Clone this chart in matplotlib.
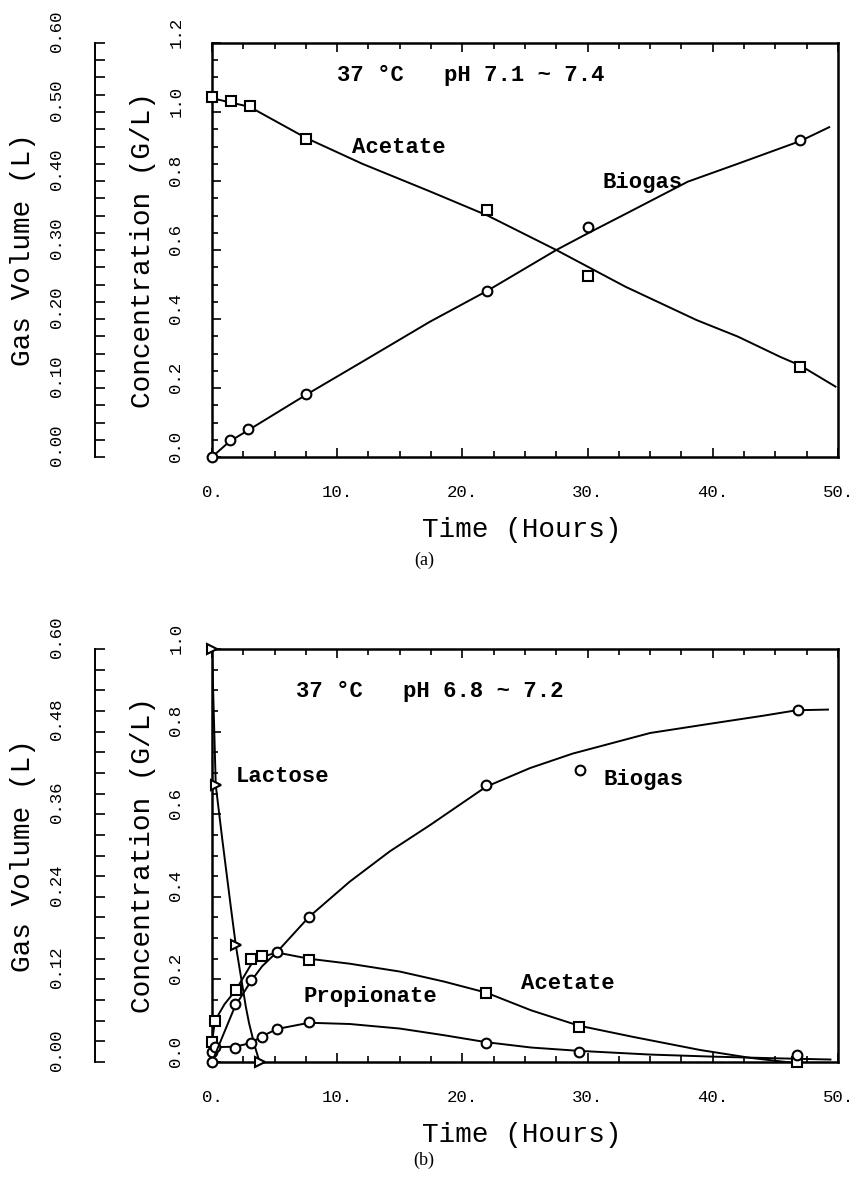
import matplotlib

matplotlib.use("Agg")
import matplotlib.pyplot as plt
import matplotlib.transforms as mtransforms
from matplotlib.ticker import MultipleLocator

# ---------------- panel (a): acetate, 37 C pH 7.1-7.4 ----------------
a_acetate_t = [0, 1.5, 3, 7.5, 22, 30, 47]
a_acetate_c = [1.043, 1.033, 1.018, 0.923, 0.716, 0.525, 0.262]
a_acetate_fit_t = [0, 3, 7.5, 12, 17.4, 22, 27.5, 33, 38.7, 42, 45.4, 47, 49.8]
a_acetate_fit_c = [1.04, 1.015, 0.925, 0.85, 0.77, 0.70, 0.60, 0.494, 0.397, 0.349, 0.29, 0.265, 0.204]

a_biogas_t = [0, 1.4, 2.9, 7.5, 22, 30, 47]
a_biogas_v = [0.0, 0.024, 0.041, 0.091, 0.241, 0.333, 0.46]
a_biogas_fit_t = [0, 1.4, 3, 7.5, 12, 17.4, 22, 27.5, 30, 33, 38, 42, 47, 49.3]
a_biogas_fit_v = [0.0, 0.0225, 0.04, 0.09, 0.138, 0.196, 0.241, 0.30, 0.324, 0.352, 0.399, 0.425, 0.458, 0.478]

# ---------------- panel (b): lactose, 37 C pH 6.8-7.2 ----------------
b_lactose_t = [0, 0.3, 1.9, 3.8]
b_lactose_c = [1.0, 0.67, 0.283, 0.0]
b_lactose_fit_t = [0, 0.3, 0.83, 1.5, 1.9, 2.7, 2.96, 3.4, 3.8]
b_lactose_fit_c = [1.0, 0.67, 0.537, 0.376, 0.283, 0.134, 0.094, 0.04, 0.0]

b_acetate_t = [0, 0.24, 1.9, 3.1, 4.0, 7.76, 21.9, 29.3, 46.7]
b_acetate_c = [0.049, 0.10, 0.174, 0.25, 0.257, 0.247, 0.166, 0.085, 0.0]
b_acetate_fit_t = [0, 0.24, 1.0, 1.9, 3.1, 4.0, 5.2, 7.76, 11, 15, 18.5, 21.9,
                   25.5, 29.3, 33.6, 39, 43, 46.7]
b_acetate_fit_c = [0.049, 0.10, 0.14, 0.174, 0.235, 0.255, 0.265, 0.25, 0.238, 0.219,
                   0.195, 0.168, 0.125, 0.088, 0.061, 0.029, 0.01, -0.003]

b_propionate_t = [0, 0.24, 1.84, 3.1, 3.97, 5.2, 7.76, 21.9, 29.3, 46.7]
b_propionate_c = [0.025, 0.036, 0.035, 0.046, 0.061, 0.081, 0.096, 0.045, 0.025, 0.017]
b_propionate_fit_t = [0, 0.24, 1.84, 3.1, 3.97, 5.2, 7.76, 11, 15, 18.5, 21.9, 25.5,
                      29.3, 35, 40, 45, 49.4]
b_propionate_fit_c = [0.025, 0.036, 0.037, 0.046, 0.062, 0.08, 0.095, 0.092, 0.081,
                      0.065, 0.048, 0.035, 0.027, 0.018, 0.013, 0.009, 0.006]

b_biogas_t = [0, 1.84, 3.1, 5.2, 7.76, 21.9, 29.4, 46.8]
b_biogas_v = [0.0, 0.084, 0.119, 0.160, 0.211, 0.403, 0.424, 0.512]
b_biogas_fit_t = [0, 1.84, 3.1, 4.0, 5.2, 7.76, 11, 14.2, 17.4, 21.9, 25.4, 28.8, 35,
                  40, 44, 46.7, 49.2]
b_biogas_fit_v = [0.0, 0.081, 0.117, 0.139, 0.160, 0.211, 0.262, 0.306, 0.344, 0.400,
                  0.427, 0.448, 0.478, 0.492, 0.503, 0.511, 0.512]

time_ticks = [0, 10, 20, 30, 40, 50]
a_conc_ticks = [0.0, 0.2, 0.4, 0.6, 0.8, 1.0, 1.2]
a_gas_ticks = [0.0, 0.1, 0.2, 0.3, 0.4, 0.5, 0.6]
b_conc_ticks = [0.0, 0.2, 0.4, 0.6, 0.8, 1.0]
b_gas_ticks = [0.0, 0.12, 0.24, 0.36, 0.48, 0.60]

plt.rcParams["font.family"] = ["Liberation Mono", "DejaVu Sans Mono"]

W, H = 862, 1177
fig = plt.figure(figsize=(W / 100, H / 100), dpi=100)

LW = 1.4
MS = 7
TICK_FS = 12.5
bold = dict(family=["Liberation Mono", "DejaVu Sans Mono"], weight="bold", fontsize=16)


def rotated_labels(axis, ticks, fmt, dx_px, dy_px):
    # vertical tick labels, sitting a little above their ticks like the plotter did
    shift = mtransforms.ScaledTranslation(dx_px / 100, dy_px / 100, fig.dpi_scale_trans)
    trans = mtransforms.blended_transform_factory(axis.transAxes, axis.transData) + shift
    for v in ticks:
        axis.text(0, v, fmt.format(v), transform=trans, rotation=90, fontsize=TICK_FS,
                  ha="center", va="center", clip_on=False)


def make_panel(top_px, bottom_px, conc_ticks, conc_fmt, gas_ticks, gas_fmt, gas_minor):
    left, right = 212 / W, 838 / W
    rect = [left, 1 - bottom_px / H, right - left, (bottom_px - top_px) / H]
    ax = fig.add_axes(rect)
    ax.set_xlim(0, 50)
    ax.set_ylim(conc_ticks[0], conc_ticks[-1])
    ax.set_xticks(time_ticks, [f"{v}." for v in time_ticks])
    ax.set_yticks(conc_ticks)
    ax.xaxis.set_minor_locator(MultipleLocator(2.5))
    ax.yaxis.set_minor_locator(MultipleLocator(0.05))
    ax.tick_params(which="both", direction="in", top=True, right=True, width=1.2)
    ax.tick_params(which="major", length=6.5)
    ax.tick_params(which="minor", length=4)
    ax.tick_params(axis="x", labelsize=TICK_FS, pad=20)
    ax.tick_params(axis="y", labelleft=False)
    for s in ax.spines.values():
        s.set_linewidth(1.8)
    ax.set_xlabel("Time (Hours)", fontsize=20)
    ax.xaxis.set_label_coords(0.495, -0.145)
    ax.set_ylabel("Concentration (G/L)", fontsize=20, va="center")
    ax.yaxis.set_label_coords(-0.110, 0.5)
    rotated_labels(ax, conc_ticks, conc_fmt, -36, 11)

    ax2 = ax.twinx()
    ax2.set_ylim(gas_ticks[0], gas_ticks[-1])
    for side in ("right", "top", "bottom"):
        ax2.spines[side].set_visible(False)
    ax2.spines["left"].set_visible(True)
    ax2.spines["left"].set_position(("outward", 84))
    ax2.spines["left"].set_linewidth(1.4)
    ax2.yaxis.set_ticks_position("left")
    ax2.yaxis.set_label_position("left")
    ax2.set_yticks(gas_ticks)
    ax2.yaxis.set_minor_locator(MultipleLocator(gas_minor))
    ax2.tick_params(which="both", direction="in", length=7, width=1.2)
    ax2.tick_params(axis="y", labelleft=False, labelright=False)
    ax2.set_ylabel("Gas Volume (L)", fontsize=20, va="center")
    ax2.yaxis.set_label_coords(-0.302, 0.5)
    rotated_labels(ax2, gas_ticks, gas_fmt, -155, 12)
    return ax, ax2


def series(axis, t, v, ft, fv, marker):
    axis.plot(ft, fv, color="black", lw=LW)
    axis.plot(t, v, linestyle="none", marker=marker, ms=MS, mfc="white",
              mec="black", mew=1.5, clip_on=False, zorder=3)


# panel (a)
ax_a, gas_a = make_panel(43, 457, a_conc_ticks, "{:.1f}", a_gas_ticks, "{:.2f}", 0.025)
series(ax_a, a_acetate_t, a_acetate_c, a_acetate_fit_t, a_acetate_fit_c, "s")
series(gas_a, a_biogas_t, a_biogas_v, a_biogas_fit_t, a_biogas_fit_v, "o")
ax_a.text(10.0, 1.107, "37 °C   pH 7.1 ~ 7.4", ha="left", va="center", **bold)
ax_a.text(11.2, 0.896, "Acetate", ha="left", va="center", **bold)
ax_a.text(31.2, 0.797, "Biogas", ha="left", va="center", **bold)

# panel (b)
ax_b, gas_b = make_panel(649, 1062, b_conc_ticks, "{:.1f}", b_gas_ticks, "{:.2f}", 0.03)
series(ax_b, b_lactose_t, b_lactose_c, b_lactose_fit_t, b_lactose_fit_c, ">")
series(ax_b, b_acetate_t, b_acetate_c, b_acetate_fit_t, b_acetate_fit_c, "s")
series(ax_b, b_propionate_t, b_propionate_c, b_propionate_fit_t, b_propionate_fit_c, "o")
series(gas_b, b_biogas_t, b_biogas_v, b_biogas_fit_t, b_biogas_fit_v, "o")
ax_b.text(6.7, 0.897, "37 °C   pH 6.8 ~ 7.2", ha="left", va="center", **bold)
ax_b.text(1.9, 0.692, "Lactose", ha="left", va="center", **bold)
ax_b.text(31.3, 0.684, "Biogas", ha="left", va="center", **bold)
ax_b.text(7.3, 0.158, "Propionate", ha="left", va="center", **bold)
ax_b.text(24.7, 0.189, "Acetate", ha="left", va="center", **bold)

cap = dict(family=["Liberation Serif", "DejaVu Serif"], fontsize=13, ha="center", va="center")
fig.text(424 / W, 1 - 560 / H, "(a)", **cap)
fig.text(424 / W, 1 - 1160 / H, "(b)", **cap)

fig.savefig("out.png", dpi=100)
plt.close(fig)
